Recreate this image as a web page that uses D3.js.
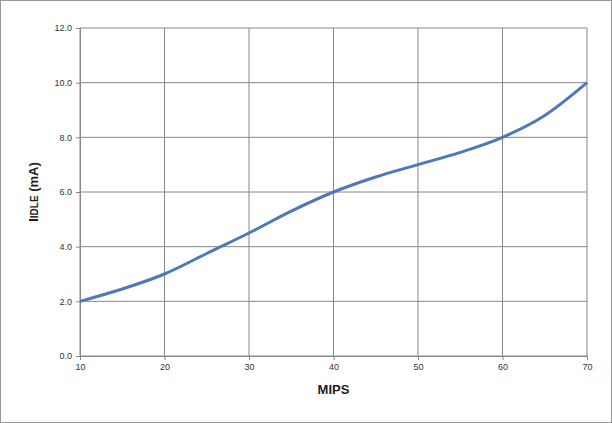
<!DOCTYPE html>
<html><head><meta charset="utf-8">
<script src="https://cdn.jsdelivr.net/npm/d3@7"></script>
<style>body{margin:0;background:#fff}svg{font-family:"Liberation Sans",Arial,sans-serif}</style>
</head><body>
<script>
// MIPS vs idle current
const mips = [10, 15, 20, 25, 30, 35, 40, 45, 50, 55, 60, 65, 70];
const idle = [2.0, 2.45, 3.0, 3.75, 4.5, 5.3, 6.0, 6.55, 7.0, 7.45, 8.0, 8.8, 10.0];
const xTicks = [10, 20, 30, 40, 50, 60, 70];
const yTicks = [0, 2, 4, 6, 8, 10, 12];

const W = 612, H = 423;
const svg = d3.select("body").append("svg").attr("width", W).attr("height", H);
svg.append("rect").attr("x", 0.5).attr("y", 0.5).attr("width", W - 1).attr("height", H - 1)
    .attr("fill", "#fff").attr("stroke", "#999");

const x = d3.scaleLinear().domain([10, 70]).range([80, 587]);
const y = d3.scaleLinear().domain([0, 12]).range([356, 28]);

// grid
svg.append("g").selectAll("line").data(xTicks).enter().append("line")
    .attr("x1", d => x(d)).attr("x2", d => x(d)).attr("y1", y(0)).attr("y2", y(12))
    .attr("stroke", "#888").attr("stroke-width", 1);
svg.append("g").selectAll("line").data(yTicks).enter().append("line")
    .attr("x1", x(10)).attr("x2", x(70)).attr("y1", d => y(d)).attr("y2", d => y(d))
    .attr("stroke", "#888").attr("stroke-width", 1);

const xAxis = svg.append("g").attr("transform", `translate(0,${y(0)})`)
    .call(d3.axisBottom(x).tickValues(xTicks).tickSize(4).tickPadding(4));
const yAxis = svg.append("g").attr("transform", `translate(${x(10)},0)`)
    .call(d3.axisLeft(y).tickValues(yTicks).tickFormat(d3.format(".1f")).tickSize(4).tickPadding(4));
[xAxis, yAxis].forEach(a => {
    a.selectAll("path,line").attr("stroke", "#888");
    a.selectAll("text").attr("font-size", 9).attr("fill", "#333").attr("font-family", "Liberation Sans, Arial");
});

svg.append("path").datum(mips.map((m, i) => [m, idle[i]]))
    .attr("fill", "none").attr("stroke", "#4f78b8").attr("stroke-width", 3)
    .attr("d", d3.line().x(d => x(d[0])).y(d => y(d[1])).curve(d3.curveMonotoneX));

svg.append("text").attr("x", x(40)).attr("y", 394).attr("text-anchor", "middle")
    .attr("font-size", 13).attr("font-weight", "bold").attr("fill", "#222").text("MIPS");
const yl = svg.append("text").attr("transform", `translate(38,${y(6)}) rotate(-90)`)
    .attr("text-anchor", "middle").attr("font-weight", "bold").attr("fill", "#222").attr("font-size", 13);
yl.append("tspan").text("I");
yl.append("tspan").attr("font-size", 10).text("IDLE");
yl.append("tspan").text(" (mA)");
</script>
</body></html>
